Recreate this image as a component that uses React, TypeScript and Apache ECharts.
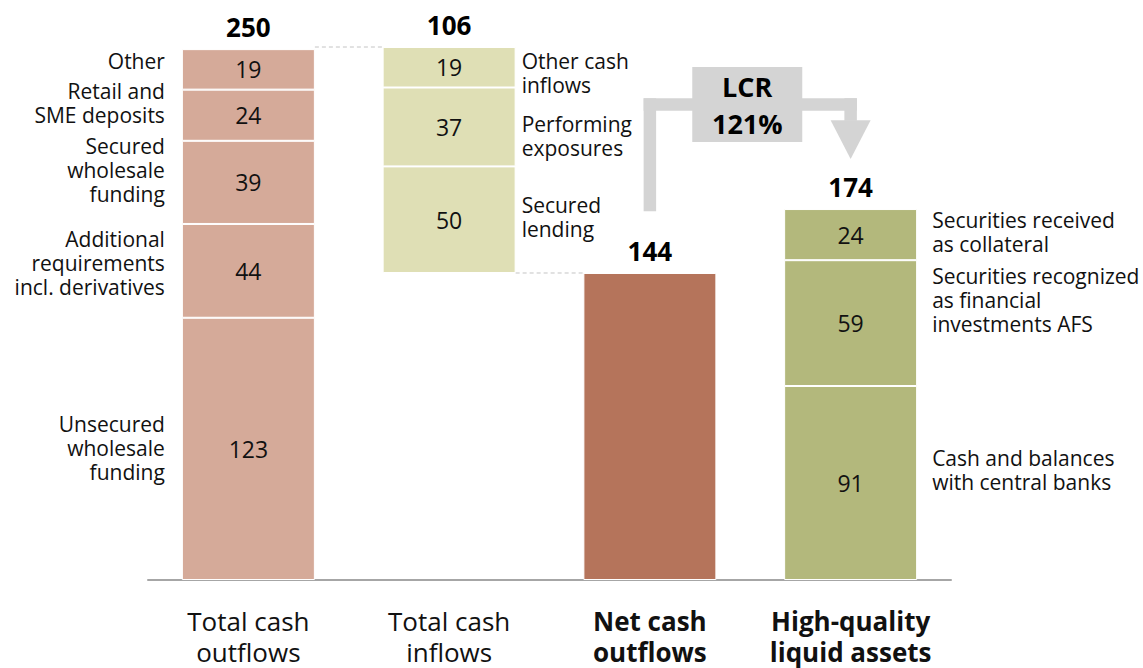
import React, { useEffect, useRef } from "react";
import * as echarts from "echarts";

// ---------- data ----------
const categories = [
  "Total cash\noutflows",
  "Total cash\ninflows",
  "Net cash\noutflows",
  "High-quality\nliquid assets",
];
const totalLabels = [250, 106, 144, 174];
const floatingBase = [0, 144, 0, 0];

// segments listed bottom to top
const outflowValues = [123, 44, 39, 24, 19];
const outflowLabels = [
  "Unsecured\nwholesale\nfunding",
  "Additional\nrequirements\nincl. derivatives",
  "Secured\nwholesale\nfunding",
  "Retail and\nSME deposits",
  "Other",
];
const inflowValues = [50, 37, 19];
const inflowLabels = ["Secured\nlending", "Performing\nexposures", "Other cash\ninflows"];
const netOutflowValues = [144];
const hqlaValues = [91, 59, 24];
const hqlaLabels = [
  "Cash and balances\nwith central banks",
  "Securities recognized\nas financial\ninvestments AFS",
  "Securities received\nas collateral",
];
const lcrLines = ["LCR", "121%"];

// ---------- styles / layout ----------
const FONT = "'Open Sans', 'Noto Sans', sans-serif";
const colors = ["#d5aa99", "#dfdfb5", "#b5745b", "#b3b87c"];
const BAR_W = 133;
const showInside = [true, true, false, true];
const sideOf = ["left", "right", null, "right"];
const sideGap = [17, 6, 0, 15];
const sideNudge = [
  [-1, -8, -12, -12, -8],
  [-3, 9, 6],
  [],
  [-13, -23, -3],
];

const segmentsByCat = [outflowValues, inflowValues, netOutflowValues, hqlaValues];
const sideTextByCat = [outflowLabels, inflowLabels, [], hqlaLabels];

export default function App() {
  const ref = useRef<HTMLDivElement>(null);

  useEffect(() => {
    if (!ref.current) return;
    const chart = echarts.init(ref.current, null, { renderer: "svg" });

    const maxLevels = Math.max(...segmentsByCat.map((s) => s.length));
    const tops = segmentsByCat.map((s, c) => floatingBase[c] + s.reduce((a, b) => a + b, 0));

    const levelSeries: any[] = [];
    for (let i = 0; i < maxLevels; i++) {
      levelSeries.push({
        type: "bar",
        stack: "s",
        barWidth: BAR_W,
        data: segmentsByCat.map((segs, c) =>
          segs[i] !== undefined
            ? {
                value: segs[i],
                itemStyle: { color: colors[c], borderColor: "#ffffff", borderWidth: 1 },
                label: { show: showInside[c] },
              }
            : "-"
        ),
        label: {
          show: true,
          position: "inside",
          color: "#111",
          fontSize: 23,
          fontFamily: FONT,
        },
      });
    }

    // side labels
    const sideItems: any[] = [];
    segmentsByCat.forEach((segs, c) => {
      let acc = floatingBase[c];
      segs.forEach((v, i) => {
        const text = sideTextByCat[c][i];
        if (text && sideOf[c]) {
          sideItems.push({ cat: c, mid: acc + v / 2, text, side: sideOf[c], dy: sideNudge[c][i] || 0 });
        }
        acc += v;
      });
    });

    const connectors = [
      { from: 0, to: 1, value: tops[1] },
      { from: 1, to: 2, value: floatingBase[1] },
    ];

    const option: any = {
      animation: false,
      grid: { left: 148, right: 192, top: 47, bottom: 88, containLabel: false },
      xAxis: {
        type: "category",
        data: categories,
        axisTick: { show: false },
        axisLine: { lineStyle: { color: "#a6a6a6", width: 2 } },
        axisLabel: {
          interval: 0,
          margin: 25,
          formatter: (value: string, idx: number) => {
            const tag = idx >= 2 ? "b" : "n";
            return value
              .split("\n")
              .map((l) => `{${tag}|${l}}`)
              .join("\n");
          },
          rich: {
            n: { fontSize: 26, fontFamily: FONT, color: "#111", lineHeight: 31 },
            b: { fontSize: 26, fontFamily: FONT, fontWeight: "bold", color: "#111", lineHeight: 31 },
          },
        },
      },
      yAxis: { type: "value", min: 0, max: 250, show: false, splitLine: { show: false } },
      series: [
        {
          type: "bar",
          stack: "s",
          barWidth: BAR_W,
          data: floatingBase,
          itemStyle: { color: "rgba(0,0,0,0)" },
          silent: true,
        },
        ...levelSeries,
        {
          type: "custom",
          data: sideItems.map((d) => [d.cat, d.mid]),
          renderItem: (params: any, api: any) => {
            const d = sideItems[params.dataIndex];
            const p = api.coord([d.cat, d.mid]);
            const half = BAR_W / 2;
            const gap = sideGap[d.cat];
            return {
              type: "text",
              x: d.side === "left" ? p[0] - half - gap : p[0] + half + gap,
              y: p[1] + d.dy,
              style: {
                text: d.text,
                align: d.side === "left" ? "right" : "left",
                verticalAlign: "middle",
                fontSize: 21,
                lineHeight: 24,
                fontFamily: FONT,
                fill: "#111",
              },
            };
          },
        },
        {
          type: "custom",
          data: tops.map((t, c) => [c, t]),
          renderItem: (params: any, api: any) => {
            const c = params.dataIndex;
            const p = api.coord([c, tops[c]]);
            return {
              type: "text",
              x: p[0],
              y: p[1] - 9,
              style: {
                text: String(totalLabels[c]),
                align: "center",
                verticalAlign: "bottom",
                fontSize: 26,
                fontWeight: "bold",
                fontFamily: FONT,
                fill: "#000",
              },
            };
          },
        },
        {
          type: "custom",
          data: connectors.map((d) => [d.from, d.value]),
          renderItem: (params: any, api: any) => {
            const d = connectors[params.dataIndex];
            const a = api.coord([d.from, d.value]);
            const b = api.coord([d.to, d.value]);
            return {
              type: "line",
              shape: { x1: a[0] + BAR_W / 2, y1: a[1], x2: b[0] - BAR_W / 2, y2: b[1] },
              style: { stroke: "#c4c4c4", lineWidth: 1, lineDash: [4, 3] },
            };
          },
        },
        {
          type: "custom",
          data: [[2, tops[2]]],
          renderItem: (params: any, api: any) => {
            const grey = "#d4d4d4";
            const from = api.coord([2, 173]);
            const to = api.coord([3, 173]);
            const yTop = api.coord([2, 226])[1];
            const yHeadTop = api.coord([3, 215.6])[1];
            const yTip = api.coord([3, 197.5])[1];
            const yBoxTop = api.coord([2, 240.6])[1];
            const yBoxBottom = api.coord([2, 205.4])[1];
            const th = 12.5;
            const x1 = from[0];
            const x2 = to[0];
            const boxCx = (x1 + x2) / 2 - 3;
            const boxW = 110;
            return {
              type: "group",
              children: [
                { type: "rect", shape: { x: x1 - th / 2, y: yTop, width: th, height: from[1] - yTop }, style: { fill: grey } },
                { type: "rect", shape: { x: x1 - th / 2, y: yTop, width: x2 - x1 + th, height: th }, style: { fill: grey } },
                { type: "rect", shape: { x: x2 - th / 2, y: yTop, width: th, height: yHeadTop - yTop + 0.5 }, style: { fill: grey } },
                {
                  type: "polygon",
                  shape: { points: [[x2 - 20, yHeadTop], [x2 + 20, yHeadTop], [x2, yTip]] },
                  style: { fill: grey },
                },
                {
                  type: "rect",
                  shape: { x: boxCx - boxW / 2, y: yBoxTop, width: boxW, height: yBoxBottom - yBoxTop },
                  style: { fill: grey },
                },
                {
                  type: "text",
                  x: boxCx,
                  y: (yBoxTop + yBoxBottom) / 2,
                  style: {
                    text: lcrLines.join("\n"),
                    align: "center",
                    verticalAlign: "middle",
                    fontSize: 27,
                    lineHeight: 37,
                    fontWeight: "bold",
                    fontFamily: FONT,
                    fill: "#000",
                  },
                },
              ],
            };
          },
        },
      ],
    };

    chart.setOption(option);
    return () => chart.dispose();
  }, []);

  return (
    <div
      ref={ref}
      style={{ position: "fixed", left: 0, top: 0, width: 1143, height: 668, background: "#fff" }}
    />
  );
}
